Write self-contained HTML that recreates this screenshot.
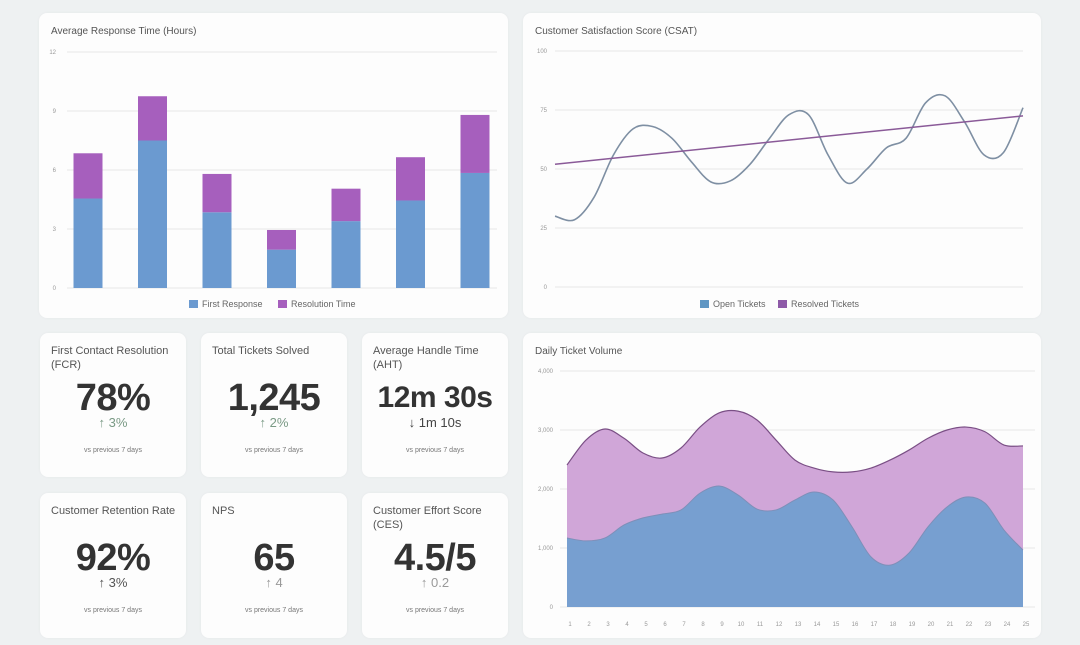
<!DOCTYPE html>
<html><head><meta charset="utf-8"><style>
body{margin:0;width:1080px;height:645px;background:#eef1f2;font-family:"Liberation Sans",sans-serif;position:relative;overflow:hidden}
.card{position:absolute;background:#fdfdfd;border-radius:8px;box-shadow:0 0 3px rgba(0,0,0,0.04)}
.kt{position:absolute;left:11px;top:11px;font-size:11px;line-height:14px;color:#555;width:125px}
.kv{position:absolute;left:0;right:0;top:44px;text-align:center;font-size:38px;font-weight:bold;color:#333;letter-spacing:-0.5px}
.kc{position:absolute;left:0;right:0;top:82px;text-align:center;font-size:13px;color:#7a9a85}
.ks{position:absolute;left:0;right:0;top:114px;text-align:center;font-size:7px;color:#777}
svg{position:absolute;left:0;top:0}
</style></head><body>
<div class="card" style="left:39px;top:13px;width:469px;height:305px"></div>
<div class="card" style="left:523px;top:13px;width:518px;height:305px"></div>
<div class="card" style="left:523px;top:333px;width:518px;height:305px"></div>

<div class="card" style="left:40px;top:333px;width:146px;height:144px"><div class="kt">First Contact Resolution (FCR)</div><div class="kv">78%</div><div class="kc">↑ 3%</div><div class="ks">vs previous 7 days</div></div>
<div class="card" style="left:201px;top:333px;width:146px;height:144px"><div class="kt">Total Tickets Solved</div><div class="kv">1,245</div><div class="kc">↑ 2%</div><div class="ks">vs previous 7 days</div></div>
<div class="card" style="left:362px;top:333px;width:146px;height:144px"><div class="kt">Average Handle Time (AHT)</div><div class="kv" style="font-size:30px;top:48px">12m 30s</div><div class="kc" style="color:#444">↓ 1m 10s</div><div class="ks">vs previous 7 days</div></div>
<div class="card" style="left:40px;top:493px;width:146px;height:145px"><div class="kt">Customer Retention Rate</div><div class="kv">92%</div><div class="kc" style="color:#555">↑ 3%</div><div class="ks">vs previous 7 days</div></div>
<div class="card" style="left:201px;top:493px;width:146px;height:145px"><div class="kt">NPS</div><div class="kv">65</div><div class="kc" style="color:#999">↑ 4</div><div class="ks">vs previous 7 days</div></div>
<div class="card" style="left:362px;top:493px;width:146px;height:145px"><div class="kt">Customer Effort Score (CES)</div><div class="kv">4.5/5</div><div class="kc" style="color:#999">↑ 0.2</div><div class="ks">vs previous 7 days</div></div>

<svg id="s" width="1080" height="645"></svg>
<script>
// Bar chart data
const barCats=["1","2","3","4","5","6","7"];
const firstResp=[4.55,7.5,3.85,1.95,3.4,4.45,5.85];
const resolTime=[2.3,2.25,1.95,1.0,1.65,2.2,2.95];
const barTicks=[0,3,6,9,12];
// CSAT data
const csatOpen=[30,28.5,38,56,67,68,63,53,44.5,45,52,63,73,73,56,44,50,59,63,78,81,70,56,57,76];
const csatTrend=[52,72.5];
const csatTicks=[0,25,50,75,100];
// Daily volume data
const days=Array.from({length:25},(_,i)=>String(i+1));
const openTickets=[1170,1120,1170,1390,1510,1575,1645,1930,2050,1900,1660,1645,1815,1950,1815,1360,850,710,915,1360,1695,1865,1760,1305,965];
const totalTickets=[2407,2830,3017,2860,2610,2525,2695,3050,3290,3320,3170,2830,2490,2355,2290,2290,2355,2490,2660,2860,3000,3050,2970,2745,2730];
const volTicks=[0,1000,2000,3000,4000];
const volTickLabels=["0","1,000","2,000","3,000","4,000"];

const NS="http://www.w3.org/2000/svg",S=document.getElementById('s');
function mk(t,a,p){const e=document.createElementNS(NS,t);for(const k in a)e.setAttribute(k,a[k]);(p||S).appendChild(e);return e;}
function txt(x,y,s,a){const e=mk('text',Object.assign({x:x,y:y,'font-size':7,fill:'#999','font-family':'Liberation Sans, sans-serif'},a||{}));e.textContent=s;return e;}
function smooth(pts){let d='M'+pts[0][0]+','+pts[0][1];for(let i=0;i<pts.length-1;i++){const p0=pts[i-1]||pts[i],p1=pts[i],p2=pts[i+1],p3=pts[i+2]||p2;d+=' C'+(p1[0]+(p2[0]-p0[0])/6)+','+(p1[1]+(p2[1]-p0[1])/6)+' '+(p2[0]-(p3[0]-p1[0])/6)+','+(p2[1]-(p3[1]-p1[1])/6)+' '+p2[0]+','+p2[1];}return d;}

// ---- Bar chart
let t=txt(51,34,'Average Response Time (Hours)',{'font-size':10,fill:'#555'});

const by=v=>288-v*(236/12), bx=i=>88+i*64.5;
barTicks.forEach(v=>{const l=mk('line',{x1:67,x2:497,y1:by(v),y2:by(v),stroke:'#e6e6e6'});
const tl=txt(56,by(v)+2,String(v),{'font-size':6,'text-anchor':'end'});});
barCats.forEach((c,i)=>{const w=29,x=bx(i)-w/2;
const a=mk('rect',{x:x,y:by(firstResp[i]),width:w,height:by(0)-by(firstResp[i]),fill:'#6b9ad0'});
const b=mk('rect',{x:x,y:by(firstResp[i]+resolTime[i]),width:w,height:by(firstResp[i])-by(firstResp[i]+resolTime[i]),fill:'#a65fbd'});});
let lg=mk('rect',{x:189,y:300,width:9,height:8,fill:'#6b9ad0'});
t=txt(202,307,'First Response',{'font-size':9,fill:'#666'});
lg=mk('rect',{x:278,y:300,width:9,height:8,fill:'#a65fbd'});
t=txt(291,307,'Resolution Time',{'font-size':9,fill:'#666'});

// ---- CSAT
t=txt(535,34,'Customer Satisfaction Score (CSAT)',{'font-size':10,fill:'#555'});
const cy=v=>287-v*2.36, cx=i=>555+i*(468/(csatOpen.length-1));
csatTicks.forEach(v=>{const l=mk('line',{x1:555,x2:1023,y1:cy(v),y2:cy(v),stroke:'#e6e6e6'});
const tl=txt(547,cy(v)+2,String(v),{'font-size':6,'text-anchor':'end'});});
let p=mk('path',{d:smooth(csatOpen.map((v,i)=>[cx(i),cy(v)])),fill:'none',stroke:'#7e8fa3','stroke-width':1.6});
p=mk('line',{x1:555,y1:cy(csatTrend[0]),x2:1023,y2:cy(csatTrend[1]),stroke:'#8a5a98','stroke-width':1.5});
lg=mk('rect',{x:700,y:300,width:9,height:8,fill:'#5f96c3'});
t=txt(713,307,'Open Tickets',{'font-size':9,fill:'#666'});
lg=mk('rect',{x:778,y:300,width:9,height:8,fill:'#8e5aa8'});
t=txt(791,307,'Resolved Tickets',{'font-size':9,fill:'#666'});

// ---- Daily volume
t=txt(535,354,'Daily Ticket Volume',{'font-size':10,fill:'#555'});
const vy=v=>607-v*(236/4000), vx=i=>567+i*19;
volTicks.forEach((v,k)=>{const l=mk('line',{x1:560,x2:1035,y1:vy(v),y2:vy(v),stroke:'#e6e6e6'});
const tl=txt(553,vy(v)+2,volTickLabels[k],{'font-size':6,'text-anchor':'end'});});
const topPts=totalTickets.map((v,i)=>[vx(i),vy(v)]), opPts=openTickets.map((v,i)=>[vx(i),vy(v)]);
const last=vx(days.length-1);
p=mk('path',{d:smooth(topPts)+' L'+last+','+vy(0)+' L'+vx(0)+','+vy(0)+'Z',fill:'#d0a6d8'});
p=mk('path',{d:smooth(opPts)+' L'+last+','+vy(0)+' L'+vx(0)+','+vy(0)+'Z',fill:'#779fd0'});
p=mk('path',{d:smooth(topPts),fill:'none',stroke:'#7a4f85','stroke-width':1.2});
p=mk('path',{d:smooth(opPts),fill:'none',stroke:'#7e8fb8','stroke-width':1});
days.forEach((d,i)=>{const tl=txt(vx(i)+3,626,d,{'font-size':6,'text-anchor':'middle'});});
</script>
</body></html>
